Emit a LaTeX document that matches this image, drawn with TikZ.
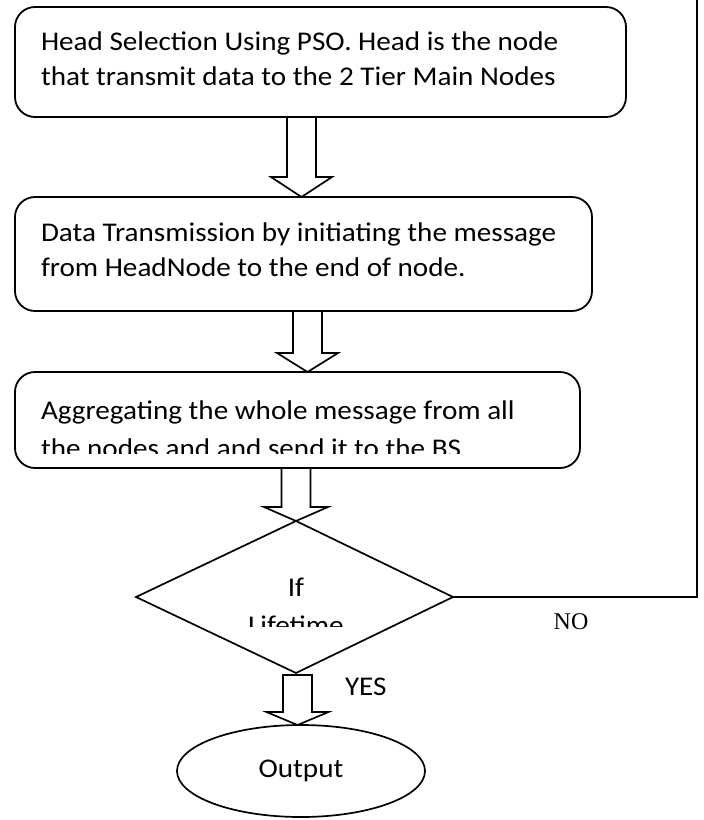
\documentclass[tikz,border=0pt]{standalone}
\usepackage{fontspec}
\setmainfont{Carlito}[FakeStretch=1.08]
\newfontfamily\timesfont{Liberation Serif}
\usetikzlibrary{calc,shapes.geometric}

% hollow block arrow: #1 gives the shaft top (its y), #2 the tip,
% #3 shaft half width, #4 head half width, #5 head length
\newcommand\blockarrow[5]{%
  \coordinate (ba-top) at (#1);
  \coordinate (ba-tip) at (#2);
  \draw[flowline] ($(ba-tip |- ba-top)+(-#3,0)$) -- ($(ba-tip)+(-#3,-#5)$)
    -- ($(ba-tip)+(-#4,-#5)$) -- (ba-tip) -- ($(ba-tip)+(#4,-#5)$)
    -- ($(ba-tip)+(#3,-#5)$) -- ($(ba-tip |- ba-top)+(#3,0)$) -- cycle;}

\begin{document}
\begin{tikzpicture}[x=1pt,y=-1pt,
  every node/.style={inner sep=0pt, outer sep=0pt},
  stepbox/.style={draw, line width=1.8pt, rounded corners=20pt},
  flowline/.style={line width=1.7pt, line join=miter},
  boxtext/.style={anchor=base west, font=\fontsize{27}{33}\selectfont},
  labeltext/.style={anchor=base, font=\fontsize{27}{33}\selectfont},
]
\useasboundingbox (0,0) rectangle (704,820);

% process boxes
\node[stepbox, minimum width=611pt, minimum height=110pt] (b1) at (320.5,62) {};
\node[boxtext] (t1a) at (41,50) {Head Selection Using PSO. Head is the node};
\node[boxtext] (t1b) at (41,85) {that transmit data to the 2 Tier Main Nodes};

\node[stepbox, minimum width=577pt, minimum height=114pt] (b2) at (303.5,254) {};
\node[boxtext] (t2a) at (41,241) {Data Transmission by initiating the message};
\node[boxtext] (t2b) at (41,276) {from HeadNode to the end of node.};

\node[stepbox, minimum width=565pt, minimum height=96pt] (b3) at (297.5,420) {};
\node[boxtext] (t3a) at (41,419) {Aggregating the whole message from all};
\begin{scope}
  \clip (15,372) rectangle (580,453);
  \node[boxtext] (t3b) at (41,457) {the nodes and and send it to the BS};
\end{scope}

% decision
\coordinate (dtop) at (296,521);
\coordinate (dright) at (453,597);
\coordinate (dbottom) at (296,673);
\coordinate (dleft) at (136,597);
\draw[flowline] (dtop) -- (dright) -- (dbottom) -- (dleft) -- cycle;
\node[labeltext] (dif) at (296,596) {If};
\begin{scope}
  \clip (200,600) rectangle (400,626);
  \node[labeltext] (dlife) at (296,634) {Lifetime};
\end{scope}

% output terminal
\node[draw, ellipse, line width=1.7pt, minimum width=248pt, minimum height=92pt] (out) at (301,771) {};
\node[labeltext] (outtxt) at (301,777) {Output};

% block arrows between the steps
\coordinate (a1) at (301.5,0);
\coordinate (a2) at (307.5,0);
\coordinate (a4) at (297.5,0);
\coordinate (dbase) at (297.5,675);
\blockarrow{b1.south}{b2.north -| a1}{14.5}{30.5}{20}
\blockarrow{b2.south}{b3.north -| a2}{14.5}{30.5}{19}
\blockarrow{b3.south}{dtop}{14.5}{32}{14}
\blockarrow{dbase}{out.north -| a4}{14.5}{31}{13}

% loop back when the lifetime is not over
\coordinate (c1) at (697,597);
\coordinate (c2) at (697,0);
\draw[flowline] (dright) -- (c1) -- (c2);
\node[anchor=base, font=\timesfont\fontsize{24}{28}\selectfont] (nolbl) at (571,629) {NO};
\node[anchor=base west] [font=\fontsize{27}{33}\selectfont] (yeslbl) at (345,695) {YES};
\end{tikzpicture}
\end{document}
